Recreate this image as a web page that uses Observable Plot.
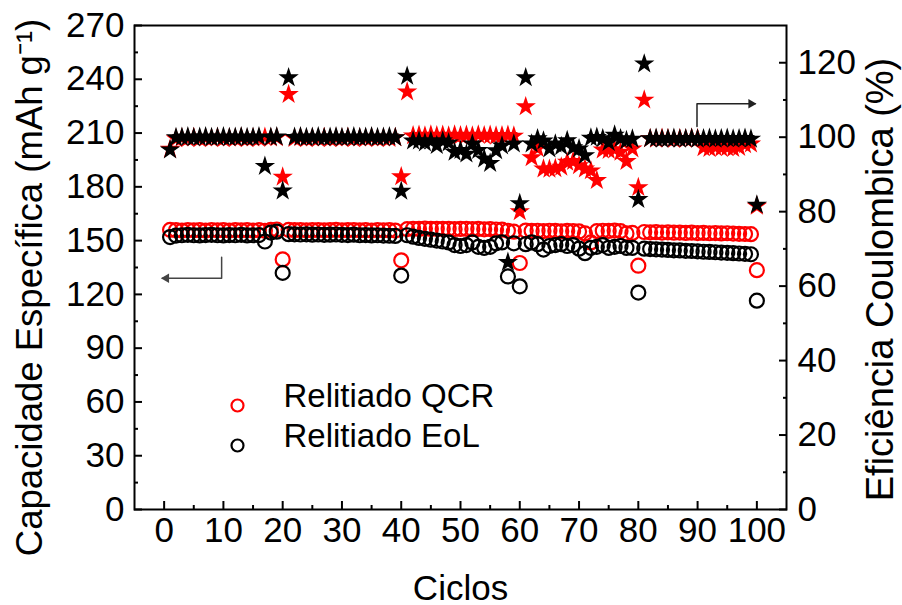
<!DOCTYPE html>
<html><head><meta charset="utf-8">
<script src="https://cdn.jsdelivr.net/npm/d3@7"></script>
<script src="https://cdn.jsdelivr.net/npm/@observablehq/plot@0.6"></script>
<style>html,body{margin:0;padding:0;background:#fff}</style>
</head><body><div id="chart"></div>
<script>
// ---- data ----
const cycles = Array.from({length: 100}, (_, i) => i + 1);
const qcrCap = [156,
 155.8,155.6,155.9,155.7,155.8,155.6,155.9,155.7,155.8,155.6,155.9,155.7,155.8,155.6,155.9,
 155.5,156,156.2,139.5,
 156,155.8,155.9,155.7,155.8,155.9,155.7,155.8,156,155.7,155.8,155.9,155.7,155.8,155.6,155.9,155.7,155.8,155.6,
 139,
 156.4,156.6,156.5,156.7,156.5,156.6,
 156.5,156.6,156.4,156.5,156.6,156.4,156.5,156.3,156.4,156.2,156.1,
 155.5,155,137.5,
 155.6,155.4,155.5,155.3,155.5,155.4,155.2,155.4,155.3,155.1,
 154,149,
 155.3,155.5,155.4,155.6,155.3,
 154,154.3,136,
 154.8,154.6,154.7,154.5,154.6,154.4,154.5,154.3,154.4,154.2,154.3,154.1,154.2,154,154.1,153.9,153.8,153.7,153.6,
 133.5];
const eolCap = [152,
 152.8,153,153.2,153,152.9,153.1,153.2,153,152.9,153.1,153,153.2,152.9,153,153.1,
 149.5,154.5,155,132,
 153.6,153.5,153.4,153.5,153.3,153.4,153.2,153.3,153.4,153.2,153.1,153.3,153,153.1,152.9,153,152.8,152.7,152.6,
 130.5,
 153,152.2,151.5,151,150.5,150,
 149.5,149,147.5,147,147.5,149,146.5,146,146.5,148.5,149,
 130,148.5,124.5,
 148,149,148,145,147,147.5,148,147,147.5,145.5,143,146,146.5,147.5,146,146.5,147,146,146,
 121,
 145.5,145.3,145.1,145,144.8,144.6,144.5,144.3,144.2,144,143.8,143.7,143.5,143.3,143.2,143,142.8,142.6,142.4,
 116.5];
const qcrEff = [96.8,
 99.6,99.8,99.7,99.9,99.6,99.8,99.7,99.9,99.6,99.8,99.7,99.9,99.6,99.8,99.7,
 100,99.8,99.9,89.3,111.5,
 99.7,99.9,99.6,99.8,99.7,99.9,99.6,99.8,99.7,99.9,99.6,99.8,99.7,99.9,99.6,99.8,99.7,99.9,
 89.4,112.2,
 100.4,100.5,100.3,100.6,100.4,100.5,100.3,100.6,100.4,100.5,100.3,100.6,100.4,100.5,100.3,100.4,100.5,100.3,
 80,
 108.2,94.5,97,91.5,91.4,91.6,92,93.3,93.5,92.4,91.5,91,88.4,96.6,96.5,96.7,96,93.5,96.9,
 86.5,110,
 99.6,99.5,99.7,99.6,99.4,99.6,99.5,99.7,99.6,
 97.2,97,97.3,97.1,97.2,97,97.3,
 98,98.2,
 81.5];
const eolEff = [96.6,
 99.9,100,100.1,99.9,100,100.1,99.9,100,100.1,99.9,100,100.1,99.9,100,100.1,
 92.2,100,100.1,85.6,116,
 100,100.1,99.9,100,100.1,99.9,100,100.1,99.9,100,100.1,99.9,100,100.1,99.9,100,100.1,99.9,
 85.5,116.4,
 99,99,98.5,99,97.8,99,98.5,96,96.5,95.5,98.2,96.5,94.2,93,96.4,97.7,66.4,98.2,
 82.2,116,
 98.2,99.6,99,96.9,98.2,97.5,99.1,97.2,96.9,95.1,99.8,100,99.6,98.6,100.6,99.6,99.1,99.5,
 83.3,119.7,
 99.6,99.7,99.5,99.6,99.7,99.5,99.6,99.7,99.5,99.6,99.7,99.5,99.6,99.7,99.5,99.6,99.7,99.5,
 81.8];

const seriesNames = ["Relitiado QCR", "Relitiado EoL"];
const seriesColors = ["#ff0000", "#000000"];

const capTicks = [0, 30, 60, 90, 120, 150, 180, 210, 240, 270];
const capMinor = [15, 45, 75, 105, 135, 165, 195, 225, 255];
const effTicks = [0, 20, 40, 60, 80, 100, 120];
const effMinor = [10, 30, 50, 70, 90, 110];
const cycleTicks = [0, 10, 20, 30, 40, 50, 60, 70, 80, 90, 100];
const cycleMinor = [5, 15, 25, 35, 45, 55, 65, 75, 85, 95];

// annotation arrows (data units: cycle, capacity)
const leftArrow = [[9.7, 140.7], [9.7, 129], [-0.3, 129]];
const rightArrow = [[89.9, 213.7], [89.9, 226.3], [99.7, 226.3]];

// right axis (efficiency 0-130) mapped onto left axis (0-270)
const CAP_MAX = 270, EFF_MAX = 130;
const toCap = e => e * CAP_MAX / EFF_MAX;

const rows = (vals) => cycles.map((c, i) => ({c, v: vals[i]}));

const chart = Plot.plot({
  width: 902, height: 605,
  marginLeft: 134, marginRight: 116, marginTop: 25, marginBottom: 96,
  x: {domain: [-5, 105]},
  y: {domain: [0, CAP_MAX]},
  style: {fontFamily: "Arial, 'Liberation Sans', sans-serif", fontSize: "35px", color: "#000", background: "#fff", overflow: "visible"},
  marks: [
    Plot.axisY(capTicks, {anchor: "left", tickSize: -8, tickPadding: 18, strokeWidth: 2, label: null}),
    Plot.axisY(capMinor, {anchor: "left", tickSize: -4, tickFormat: () => "", strokeWidth: 2, label: null}),
    Plot.axisY(effTicks.map(toCap), {anchor: "right", tickSize: -8, tickPadding: 19, strokeWidth: 2, label: null,
      tickFormat: v => d3.format(".0f")(v * EFF_MAX / CAP_MAX)}),
    Plot.axisY(effMinor.map(toCap), {anchor: "right", tickSize: -4, tickFormat: () => "", strokeWidth: 2, label: null}),
    Plot.axisX(cycleTicks, {anchor: "bottom", tickSize: -8, tickPadding: 16, strokeWidth: 2, label: null}),
    Plot.axisX(cycleMinor, {anchor: "bottom", tickSize: -4, tickFormat: () => "", strokeWidth: 2, label: null}),
    Plot.frame({stroke: "#000", strokeWidth: 2}),
    // capacity circles
    Plot.dot(rows(qcrCap), {x: "c", y: "v", r: 7, stroke: seriesColors[0], strokeWidth: 2.2, fill: "none"}),
    Plot.dot(rows(eolCap), {x: "c", y: "v", r: 7, stroke: seriesColors[1], strokeWidth: 2.2, fill: "none"}),
    // efficiency stars
    Plot.dot(rows(qcrEff), {x: "c", y: d => toCap(d.v), symbol: "star", r: 6.4, fill: seriesColors[0], stroke: "none"}),
    Plot.dot(rows(eolEff), {x: "c", y: d => toCap(d.v), symbol: "star", r: 6.4, fill: seriesColors[1], stroke: "none"}),
    // arrows: polyline + filled head
    Plot.line(leftArrow, {x: d => d[0], y: d => d[1], stroke: "#444", strokeWidth: 1.5}),
    Plot.dot([leftArrow[2]], {x: d => d[0], y: d => d[1], symbol: "triangle2", r: 4.5, rotate: -90, dx: 4, fill: "#444", stroke: "none"}),
    Plot.line(rightArrow, {x: d => d[0], y: d => d[1], stroke: "#222", strokeWidth: 1.5}),
    Plot.dot([rightArrow[2]], {x: d => d[0], y: d => d[1], symbol: "triangle2", r: 4.5, rotate: 90, dx: -4, fill: "#222", stroke: "none"}),
    // legend
    Plot.dot([seriesNames[0]], {frameAnchor: "bottom-left", dx: 103, dy: -104, r: 6, stroke: seriesColors[0], strokeWidth: 2.2, fill: "none"}),
    Plot.dot([seriesNames[1]], {frameAnchor: "bottom-left", dx: 103, dy: -64, r: 6, stroke: seriesColors[1], strokeWidth: 2.2, fill: "none"}),
    Plot.text([seriesNames[0]], {frameAnchor: "bottom-left", dx: 149, dy: -103, text: d => d, textAnchor: "start", fontSize: 33, fill: "#000"}),
    Plot.text([seriesNames[1]], {frameAnchor: "bottom-left", dx: 149, dy: -63, text: d => d, textAnchor: "start", fontSize: 33, fill: "#000"}),
    // axis titles
    Plot.text(["Capacidade Específica (mAh g\u207B\u00B9)"], {frameAnchor: "left", dx: -104, dy: 20, rotate: -90, textAnchor: "middle", text: d => d, fontSize: 36.5, fill: "#000"}),
    Plot.text(["Eficiência Coulombica (%)"], {frameAnchor: "right", dx: 94, dy: 12, rotate: -90, textAnchor: "middle", text: d => d, fontSize: 38, fill: "#000"}),
    Plot.text(["Ciclos"], {frameAnchor: "bottom", dy: 90, text: d => d, fontSize: 35, fill: "#000"})
  ]
});
document.getElementById("chart").appendChild(chart);
</script>
</body></html>
